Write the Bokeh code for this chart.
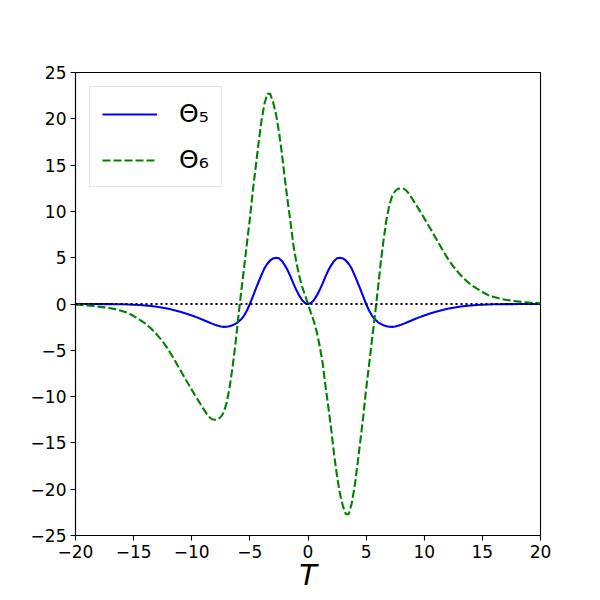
from bokeh.plotting import figure
from bokeh.models import FixedTicker, Span
from bokeh.embed import file_html
from bokeh.resources import INLINE

# ---- data ----
T_NEG_TAIL = [-20.0, -19.5, -19.0, -18.5, -18.0, -17.5, -17.0, -16.5, -16.0, -15.5, -15.0,
              -14.5, -14.0, -13.5, -13.0, -12.5, -12.0, -11.5, -11.0, -10.5, -10.0]
T_NEG_CORE = [-9.75, -9.5, -9.25, -9.0, -8.75, -8.5, -8.25, -8.0, -7.75, -7.5, -7.25, -7.0,
              -6.75, -6.5, -6.25, -6.0, -5.75, -5.5, -5.25, -5.0, -4.75, -4.5, -4.25, -4.0,
              -3.75, -3.5, -3.25, -3.0, -2.75, -2.5, -2.25, -2.0, -1.75, -1.5, -1.25, -1.0,
              -0.75, -0.5, -0.25]
T_ZERO = [0.0]
T_POS_CORE = [0.25, 0.5, 0.75, 1.0, 1.25, 1.5, 1.75, 2.0, 2.25, 2.5, 2.75, 3.0, 3.25, 3.5,
              3.75, 4.0, 4.25, 4.5, 4.75, 5.0, 5.25, 5.5, 5.75, 6.0, 6.25, 6.5, 6.75, 7.0,
              7.25, 7.5, 7.75, 8.0, 8.25, 8.5, 8.75, 9.0, 9.25, 9.5, 9.75]
T_POS_TAIL = [10.0, 10.5, 11.0, 11.5, 12.0, 12.5, 13.0, 13.5, 14.0, 14.5, 15.0, 15.5, 16.0,
              16.5, 17.0, 17.5, 18.0, 18.5, 19.0, 19.5, 20.0]

THETA5_NEG_TAIL = [0.0, -0.001, -0.002, -0.004, -0.007, -0.011, -0.017, -0.025, -0.035, -0.05,
                   -0.08, -0.11, -0.16, -0.22, -0.3, -0.4, -0.52, -0.67, -0.84, -1.03, -1.24]
THETA5_NEG_CORE = [-1.35, -1.47, -1.6, -1.73, -1.86, -1.99, -2.12, -2.24, -2.35, -2.43, -2.47,
                   -2.45, -2.4, -2.3, -2.15, -1.95, -1.65, -1.25, -0.7, 0.0, 0.8, 1.6, 2.4,
                   3.15, 3.85, 4.35, 4.7, 4.92, 5.0, 4.95, 4.65, 4.2, 3.65, 2.95, 2.2, 1.5,
                   0.9, 0.4, 0.1]
THETA5_ZERO = [0.0]
THETA5_POS_CORE = [0.1, 0.4, 0.9, 1.5, 2.2, 2.95, 3.65, 4.2, 4.65, 4.95, 5.0, 4.92, 4.7,
                   4.35, 3.85, 3.15, 2.4, 1.6, 0.8, 0.0, -0.7, -1.25, -1.65, -1.95, -2.15,
                   -2.3, -2.4, -2.45, -2.47, -2.43, -2.35, -2.24, -2.12, -1.99, -1.86, -1.73,
                   -1.6, -1.47, -1.35]
THETA5_POS_TAIL = [-1.24, -1.03, -0.84, -0.67, -0.52, -0.4, -0.3, -0.22, -0.16, -0.11, -0.08,
                   -0.05, -0.035, -0.025, -0.017, -0.011, -0.007, -0.004, -0.002, -0.001, 0.0]

THETA6_NEG_TAIL = [-0.08, -0.11, -0.15, -0.21, -0.28, -0.36, -0.45, -0.58, -0.75, -0.95, -1.3,
                   -1.68, -2.1, -2.65, -3.3, -4.05, -4.95, -6.0, -7.1, -8.2, -9.25]
THETA6_NEG_CORE = [-9.8, -10.3, -10.8, -11.3, -11.8, -12.2, -12.45, -12.5, -12.45, -12.2,
                   -11.7, -10.7, -9.1, -6.9, -4.4, -1.5, 1.3, 3.9, 6.6, 9.2, 12.2, 14.8,
                   17.4, 19.8, 21.6, 22.7, 22.7, 21.8, 20.5, 18.6, 16.3, 13.6, 11.1, 8.8,
                   6.3, 4.5, 3.0, 1.85, 0.95]
THETA6_ZERO = [0.0]
THETA6_POS_CORE = [-0.95, -1.85, -3.0, -4.5, -6.3, -8.8, -11.1, -13.6, -16.3, -18.6, -20.5,
                   -21.8, -22.7, -22.7, -21.6, -19.8, -17.4, -14.8, -12.2, -9.2, -6.6, -3.9,
                   -1.3, 1.5, 4.4, 6.9, 9.1, 10.7, 11.7, 12.2, 12.45, 12.5, 12.45, 12.2, 11.8,
                   11.3, 10.8, 10.3, 9.8]
THETA6_POS_TAIL = [9.25, 8.2, 7.1, 6.0, 4.95, 4.05, 3.3, 2.65, 2.1, 1.68, 1.3, 0.95, 0.75,
                   0.58, 0.45, 0.36, 0.28, 0.21, 0.15, 0.11, 0.08]

X_TICKS = [-20, -15, -10, -5, 0, 5, 10, 15, 20]
Y_TICKS = [-25, -20, -15, -10, -5, 0, 5, 10, 15, 20, 25]
X_TICK_LABELS = ["\u221220", "\u221215", "\u221210", "\u22125", "0", "5", "10", "15", "20"]
Y_TICK_LABELS = ["\u221225", "\u221220", "\u221215", "\u221210", "\u22125", "0", "5", "10",
                 "15", "20", "25"]
LABEL5 = "\u0398\u2085"
LABEL6 = "\u0398\u2086"
X_LABEL = "T"

T = T_NEG_TAIL + T_NEG_CORE + T_ZERO + T_POS_CORE + T_POS_TAIL
THETA5 = THETA5_NEG_TAIL + THETA5_NEG_CORE + THETA5_ZERO + THETA5_POS_CORE + THETA5_POS_TAIL
THETA6 = THETA6_NEG_TAIL + THETA6_NEG_CORE + THETA6_ZERO + THETA6_POS_CORE + THETA6_POS_TAIL

FONT = "DejaVu Sans"

p = figure(frame_width=465, frame_height=463, x_range=(-20, 20), y_range=(-25, 25),
           output_backend="svg", toolbar_location=None,
           min_border_left=75, min_border_right=44, min_border_top=72, min_border_bottom=49)
p.background_fill_color = "white"
p.border_fill_color = "white"
p.outline_line_color = "black"
p.outline_line_width = 1.1
p.xgrid.visible = False
p.ygrid.visible = False

p.line(T, THETA5, line_color="blue", line_width=2.1, legend_label=LABEL5)
p.line(T, THETA6, line_color="#008000", line_width=2.1, line_dash="8 3",
       legend_label=LABEL6)

zero = Span(location=0, dimension="width", line_color="black", line_width=2.1,
            line_dash="2 3")
p.add_layout(zero)

for ax, ticks, labels in ((p.xaxis[0], X_TICKS, X_TICK_LABELS), (p.yaxis[0], Y_TICKS, Y_TICK_LABELS)):
    ax.ticker = FixedTicker(ticks=ticks)
    ax.major_label_overrides = {t: l for t, l in zip(ticks, labels)}
    ax.major_label_text_font = FONT
    ax.major_label_text_font_size = "17px"
    ax.major_label_text_color = "black"
    ax.major_tick_in = 0
    ax.major_tick_out = 5
    ax.major_tick_line_color = "black"
    ax.major_tick_line_width = 1.1
    ax.minor_tick_line_color = None
    ax.axis_line_color = "black"
    ax.axis_line_width = 1.1
    ax.major_label_standoff = 4

p.xaxis.axis_label = X_LABEL
p.xaxis.axis_label_text_font = FONT
p.xaxis.axis_label_text_font_style = "italic"
p.xaxis.axis_label_text_font_size = "29px"
p.xaxis.axis_label_text_color = "black"
p.xaxis.axis_label_standoff = -3

lg = p.legend[0]
lg.location = "top_left"
lg.margin = 14
lg.padding = 12
lg.spacing = 17
lg.glyph_width = 55
lg.glyph_height = 28
lg.label_height = 28
lg.label_standoff = 22
lg.label_text_font = FONT
lg.label_text_font_size = "25px"
lg.label_text_color = "black"
lg.border_line_color = "#cccccc"
lg.border_line_width = 1
lg.background_fill_alpha = 0.8

open("out.html", "w").write(file_html(p, INLINE))
